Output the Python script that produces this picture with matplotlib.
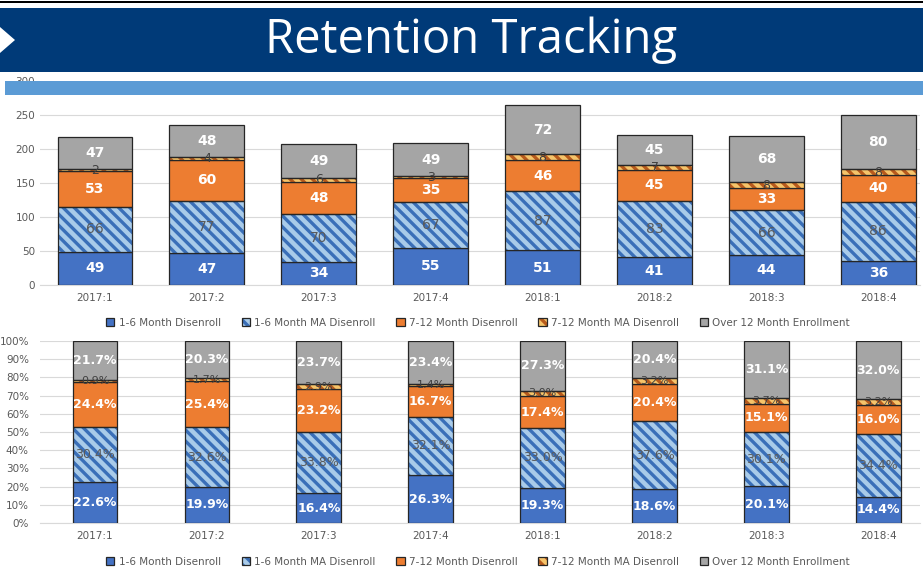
import matplotlib
matplotlib.use("Agg")
import matplotlib.pyplot as plt
import numpy as np
from matplotlib.patches import Rectangle, Polygon
from matplotlib.legend_handler import HandlerTuple

plt.rcParams['font.family'] = ['DejaVu Sans']
plt.rcParams['hatch.linewidth'] = 2.4

quarters = ["2017:1", "2017:2", "2017:3", "2017:4", "2018:1", "2018:2", "2018:3", "2018:4"]
series_names = ["1-6 Month Disenroll", "1-6 Month MA Disenroll", "7-12 Month Disenroll",
                "7-12 Month MA Disenroll", "Over 12 Month Enrollment"]
d_1_6 = [49, 47, 34, 55, 51, 41, 44, 36]
d_1_6_ma = [66, 77, 70, 67, 87, 83, 66, 86]
d_7_12 = [53, 60, 48, 35, 46, 45, 33, 40]
d_7_12_ma = [2, 4, 6, 3, 8, 7, 8, 8]
over_12 = [47, 48, 49, 49, 72, 45, 68, 80]

series = [d_1_6, d_1_6_ma, d_7_12, d_7_12_ma, over_12]
faces = ["#4472c4", "#a9cbe9", "#ed7d31", "#f6c46a", "#a5a5a5"]
hatches = [None, "\\\\\\", None, "\\\\\\", None]
hatch_cols = [None, "#3a6fb8", None, "#b85a1c", None]
label_cols = ["white", "#5a5a5a", "white", "#404040", "white"]
label_weights = ["bold", "normal", "bold", "normal", "bold"]

W, H = 923, 571
fig = plt.figure(figsize=(W / 100, H / 100), dpi=100)

def fx(px):
    return px / W

def fy(py):
    return 1 - py / H

x = np.arange(len(quarters))
xlim = ((40 - 95) / 111.9, (920 - 95) / 111.9)

def draw(ax, data, width, fmt, ylim, yticks, yticklabels, fs):
    bottom = np.zeros(len(quarters))
    handles = []
    for i, vals in enumerate(data):
        vals = np.asarray(vals, dtype=float)
        if hatches[i]:
            bars = ax.bar(x, vals, width, bottom=bottom, label=series_names[i],
                          color=faces[i], edgecolor=hatch_cols[i], hatch=hatches[i],
                          linewidth=0, zorder=3)
            outline = ax.bar(x, vals, width, bottom=bottom, fill=False, edgecolor="#262626",
                             linewidth=0.9, zorder=3.5)
            handles.append((bars, outline))
        else:
            bars = ax.bar(x, vals, width, bottom=bottom, label=series_names[i],
                          color=faces[i], edgecolor="#262626", linewidth=0.9, zorder=3)
            handles.append(bars)
        for xi, v, b0 in zip(x, vals, bottom):
            ax.text(xi, b0 + v / 2, fmt(v), ha="center", va="center",
                    color=label_cols[i], fontsize=fs if i != 3 else fs - 1,
                    fontweight=label_weights[i], zorder=5)
        bottom = bottom + vals
    ax.set_xlim(*xlim)
    ax.set_ylim(*ylim)
    ax.set_yticks(yticks)
    ax.set_yticklabels(yticklabels)
    ax.set_xticks(x)
    ax.set_xticklabels(quarters)
    ax.grid(axis="y", color="#d9d9d9", linewidth=0.8, zorder=0)
    ax.set_axisbelow(True)
    for s in ["top", "right", "left"]:
        ax.spines[s].set_visible(False)
    ax.spines["bottom"].set_color("#d9d9d9")
    ax.tick_params(axis="both", length=0, colors="#595959", labelsize=7.5)
    ax.tick_params(axis="x", pad=6)
    return handles

legend_kw = dict(loc="center", ncol=5, frameon=False, fontsize=7.5, handlelength=0.8,
                 handleheight=0.8, columnspacing=2.0, handletextpad=0.4,
                 labelcolor="#595959", handler_map={tuple: HandlerTuple(ndivide=1, pad=0)})

# Top chart
ax1 = fig.add_axes([fx(40), fy(285), fx(920) - fx(40), fy(81) - fy(285)])
h1 = draw(ax1, series, 0.67, lambda v: f"{int(v)}", (0, 300),
          [0, 50, 100, 150, 200, 250, 300], ["0", "50", "100", "150", "200", "250", "300"], 10)
fig.legend(handles=h1, labels=series_names, bbox_to_anchor=(fx(478), fy(323)), **legend_kw)

# Bottom chart (percent of each quarter's total)
totals = np.sum(np.array(series, dtype=float), axis=0)
pct = [np.asarray(s, dtype=float) / totals * 100 for s in series]
ax2 = fig.add_axes([fx(40), fy(523), fx(920) - fx(40), fy(341) - fy(523)])
h2 = draw(ax2, pct, 0.40, lambda v: f"{v:.1f}%", (0, 100),
          list(range(0, 101, 10)), [f"{t}%" for t in range(0, 101, 10)], 9)
ax2.tick_params(axis="y", pad=8)
fig.legend(handles=h2, labels=series_names, bbox_to_anchor=(fx(478), fy(562)), **legend_kw)

# Banner
fig.patches.append(Rectangle((fx(0), fy(72)), 1, fy(8) - fy(72), transform=fig.transFigure,
                             facecolor="#003a78", edgecolor="none", zorder=10))
fig.patches.append(Polygon([(fx(0), fy(27)), (fx(15), fy(40)), (fx(0), fy(53))],
                           closed=True, transform=fig.transFigure,
                           facecolor="white", edgecolor="none", zorder=11))
fig.patches.append(Rectangle((fx(5), fy(95)), 1, fy(81) - fy(95), transform=fig.transFigure,
                             facecolor="#5b9bd5", edgecolor="none", zorder=10))
fig.patches.append(Rectangle((0, fy(3)), 1, fy(1) - fy(3), transform=fig.transFigure,
                             facecolor="black", edgecolor="none", zorder=10))
fig.text(fx(471), fy(40), "Retention Tracking", ha="center", va="center", color="white",
         fontsize=34, family="Open Sans", zorder=12)

fig.savefig("out.png", dpi=100)
